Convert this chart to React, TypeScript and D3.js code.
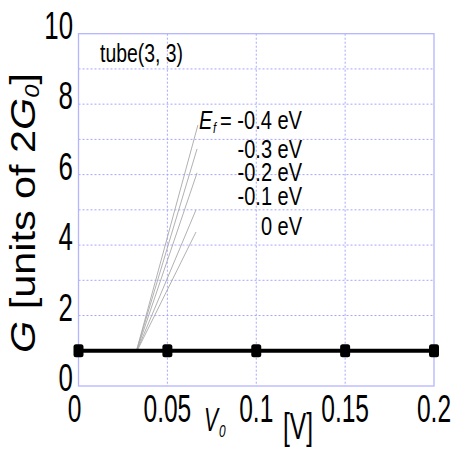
import React from "react";
import * as d3 from "d3";

// ---- data ----
const voltages = [0, 0.05, 0.1, 0.15, 0.2];
const conductance = [1, 1, 1, 1, 1];
const xTicks = [0, 0.05, 0.1, 0.15, 0.2];
const xTickLabels = ["0", "0.05", "0.1", "0.15", "0.2"];
const yTicks = [0, 2, 4, 6, 8, 10];
const yGrid = [1, 2, 3, 4, 5, 6, 7, 8, 9];
const xGrid = [0.05, 0.1, 0.15];
const efLabels = ["-0.4 eV", "-0.3 eV", "-0.2 eV", "-0.1 eV", "0 eV"];
// leader lines: start (V, G) -> end (V, G)
const leaderStartV = [0.0329, 0.0329, 0.0331, 0.0333, 0.0335];
const leaderStartG = [1.05, 1.05, 1.05, 1.05, 1.05];
const leaderEndV = [0.0672, 0.0667, 0.0667, 0.0661, 0.0661];
const leaderEndG = [7.41, 6.73, 6.05, 5.0, 4.37];
const efLabelG = [7.3, 6.48, 5.83, 5.14, 4.3];

const W = 456;
const H = 450;
const left = 78.5;
const right = 434;
const top = 33.7;
const bottom = 386;
const FONT = "'Liberation Sans', Arial, sans-serif";

export default function App() {
  const x = d3.scaleLinear().domain([0, 0.2]).range([left, right]);
  const y = d3.scaleLinear().domain([0, 10]).range([bottom, top]);
  const line = d3
    .line<number>()
    .x((_, i) => x(voltages[i]))
    .y((d) => y(d));
  const gridColor = "#a6a6ff";
  return (
    <svg
      width={W}
      height={H}
      style={{ position: "absolute", left: 0, top: 0, background: "#fff" }}
      fontFamily={FONT}
    >
      <rect x={0} y={0} width={W} height={H} fill="#fff" />
      {/* grid */}
      {yGrid.map((g) => (
        <line
          key={"yg" + g}
          x1={left}
          x2={right}
          y1={y(g)}
          y2={y(g)}
          stroke={gridColor}
          strokeWidth={1}
          strokeDasharray="2,2"
        />
      ))}
      {xGrid.map((g) => (
        <line
          key={"xg" + g}
          x1={x(g)}
          x2={x(g)}
          y1={top}
          y2={bottom}
          stroke={gridColor}
          strokeWidth={1}
          strokeDasharray="2,2"
        />
      ))}
      <rect
        x={left}
        y={top}
        width={right - left}
        height={bottom - top}
        fill="none"
        stroke="#b4b4ff"
        strokeWidth={1.3}
      />
      {/* leader lines */}
      {efLabels.map((_, i) => (
        <line
          key={"ld" + i}
          x1={x(leaderStartV[i])}
          y1={y(leaderStartG[i])}
          x2={x(leaderEndV[i])}
          y2={y(leaderEndG[i])}
          stroke="#a8a8a8"
          strokeWidth={0.9}
        />
      ))}
      {/* main series */}
      <path d={line(conductance) || ""} fill="none" stroke="#000" strokeWidth={3.8} />
      {voltages.map((v, i) => (
        <rect
          key={"m" + i}
          x={x(v) - 5}
          y={y(conductance[i]) - 6.5}
          width={10}
          height={13}
          rx={2.5}
          fill="#000"
        />
      ))}
      {/* y tick labels */}
      {yTicks.map((t) => (
        <text
          key={"yt" + t}
          transform={`translate(73,${y(t) + 5}) scale(0.68,1)`}
          fontSize={38}
          textAnchor="end"
          fill="#000"
        >
          {t}
        </text>
      ))}
      {/* x tick labels */}
      {xTicks.map((t, i) => (
        <text
          key={"xt" + t}
          transform={`translate(${x(t) - (i === 0 ? 4 : 0)},422) scale(0.63,1)`}
          fontSize={39}
          textAnchor="middle"
          fill="#000"
        >
          {xTickLabels[i]}
        </text>
      ))}
      {/* x title */}
      <text transform="translate(204,431) scale(0.62,1)" fontSize={34} fontStyle="italic">
        V
      </text>
      <text transform="translate(219,437) scale(0.7,1)" fontSize={17} fontStyle="italic">
        0
      </text>
      <text x={283} y={439} fontSize={36} textLength={30} lengthAdjust="spacingAndGlyphs">
        [V]
      </text>
      {/* y title */}
      <text
        transform="translate(35,353) rotate(-90)"
        fontSize={35}
        textLength={280}
        lengthAdjust="spacingAndGlyphs"
      >
        <tspan fontStyle="italic">G</tspan>
        <tspan> [units of 2</tspan>
        <tspan fontStyle="italic">G</tspan>
        <tspan fontStyle="italic" fontSize={20} dy={4}>
          0
        </tspan>
        <tspan dy={-4}>]</tspan>
      </text>
      {/* annotations */}
      <text x={100} y={62} fontSize={26} textLength={83} lengthAdjust="spacingAndGlyphs">
        tube(3, 3)
      </text>
      <text transform={`translate(199,${y(efLabelG[0])}) scale(0.8,1)`} fontSize={25} fontStyle="italic">
        E
      </text>
      <text transform={`translate(213,${y(efLabelG[0]) + 4}) scale(0.8,1)`} fontSize={14} fontStyle="italic">
        f
      </text>
      <text
        x={220}
        y={y(efLabelG[0])}
        fontSize={25}
        textLength={82}
        lengthAdjust="spacingAndGlyphs"
      >
        = {efLabels[0]}
      </text>
      {efLabels.slice(1).map((lab, i) => (
        <text
          key={"ef" + i}
          transform={`translate(302,${y(efLabelG[i + 1])}) scale(0.8,1)`}
          fontSize={25}
          textAnchor="end"
        >
          {lab}
        </text>
      ))}
    </svg>
  );
}
